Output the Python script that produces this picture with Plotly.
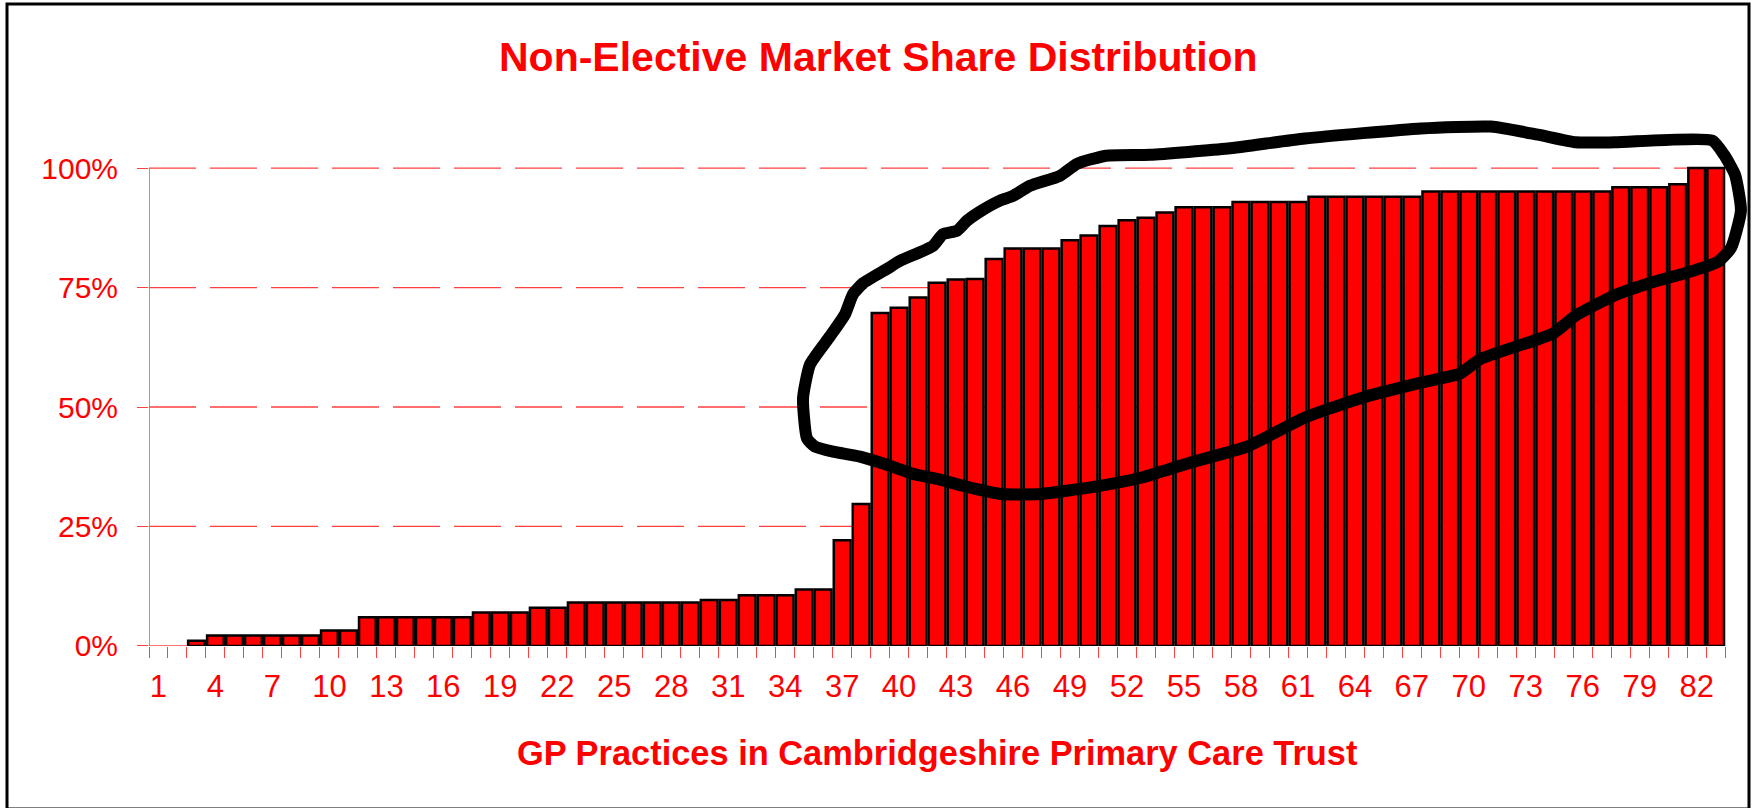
import plotly.graph_objects as go

# ---------------- data ----------------
practices = list(range(1, 84))
market_share = [
    0, 0, 1.1,
    2.2, 2.2, 2.2, 2.2, 2.2, 2.2,
    3.2, 3.2,
    6.0, 6.0, 6.0, 6.0, 6.0, 6.0,
    7.0, 7.0, 7.0,
    8.0, 8.0,
    9.1, 9.1, 9.1, 9.1, 9.1, 9.1, 9.1,
    9.6, 9.6,
    10.6, 10.6, 10.6,
    11.8, 11.8,
    22.1, 29.7, 69.7, 70.8, 72.9, 76.0, 76.7, 76.8, 81.0,
    83.2, 83.2, 83.2,
    84.9, 85.9, 87.9, 89.1, 89.6, 90.7,
    91.8, 91.8, 91.8,
    92.9, 92.9, 92.9, 92.9,
    94.0, 94.0, 94.0, 94.0, 94.0, 94.0,
    95.1, 95.1, 95.1, 95.1, 95.1, 95.1, 95.1, 95.1, 95.1, 95.1,
    96.0, 96.0, 96.0,
    96.6,
    100.0, 100.0,
]
tick_vals = list(range(1, 83, 3))
tick_text = [str(v) for v in tick_vals]
y_tick_vals = [0, 25, 50, 75, 100]
y_tick_text = ["0%", "25%", "50%", "75%", "100%"]

# hand-drawn loop (practice position, percent)
loop_x = [36.36, 35.31, 34.94, 35.15, 35.57, 36.52, 37.94, 39.36, 40.73, 42.15,
          43.58, 45.37, 47.42, 50.42, 52.84, 55.27, 58.32, 61.37, 64.43, 67.48,
          69.54, 70.59, 74.43, 75.65, 77.7, 79.75, 81.81, 83.12, 83.81, 84.33,
          84.02, 83.44, 82.81, 77.7, 75.65, 73.64, 71.17, 67.48, 61.37, 57.32,
          53.21, 50.89, 49.37, 48.47, 46.89, 46.0, 45.31, 44.26, 43.58, 43.05,
          42.31, 41.78, 40.05, 39.36, 38.1, 37.57, 37.15, 36.36]
loop_y = [64.8, 58.9, 51.8, 43.4, 41.7, 40.65, 39.6, 37.9, 36.0, 34.8,
          33.3, 31.8, 31.8, 33.4, 35.3, 38.3, 41.7, 47.8, 52.0, 55.1,
          57.0, 60.0, 65.4, 69.2, 73.4, 76.2, 78.5, 80.4, 83.3, 91.1,
          98.6, 102.8, 105.8, 105.4, 105.4, 107.0, 108.7, 108.3, 106.2, 104.1,
          102.8, 102.6, 100.9, 98.4, 96.3, 94.2, 93.2, 90.9, 89.0, 86.9,
          86.2, 83.7, 80.6, 78.9, 75.9, 73.6, 69.4, 64.8]

chart_title = "Non-Elective Market Share Distribution"
x_title = "GP Practices in Cambridgeshire Primary Care Trust"

# ---------------- layout geometry ----------------
W = 1755
H_REF = 808
H = 828                  # figure height (photographed page is squeezed to 808)
VS = H / H_REF           # vertical scale from reference pixels to figure pixels
FONT = "Arial, 'Liberation Sans', sans-serif"
RED = "#FF0000"
GRID = "#FF4040"

x_left_px = 149.0
unit_px = 18.99
x_range = [0.5, 84.7]
x_right_px = x_left_px + (x_range[1] - x_range[0]) * unit_px

y0_px = 643.5 * VS
pct_px = 4.76 * VS
y_range = [0, 112]
y_top_px = y0_px - y_range[1] * pct_px

fig = go.Figure()
fig.add_trace(go.Bar(
    x=practices, y=market_share,
    marker=dict(color=RED,
                line=dict(color="#000000",
                          width=[2.5 if v > 0 else 0 for v in market_share])),
    hoverinfo="x+y",
))
fig.add_trace(go.Scatter(
    x=loop_x, y=loop_y, mode="lines",
    line=dict(color="#000000", width=12, shape="spline", smoothing=0.5),
    hoverinfo="skip",
))

shapes = []
for v in y_tick_vals[1:]:
    shapes.append(dict(type="line", xref="x", yref="y", x0=0.5, x1=len(practices) + 0.5,
                       y0=v, y1=v, layer="below",
                       line=dict(color=GRID, width=1.3, dash="47px,14px")))
shapes.append(dict(type="line", xref="x", yref="y", x0=0.5, x1=len(practices) + 0.5,
                   y0=0, y1=0, layer="below", line=dict(color=GRID, width=1.3)))
shapes.append(dict(type="line", xref="x", yref="y", x0=0.5, x1=0.5,
                   y0=0, y1=100, layer="below", line=dict(color="#FF4848", width=1.5)))
shapes.append(dict(type="rect", xref="paper", yref="paper",
                   x0=7 / W, x1=1749 / W, y0=1 - 806 * VS / H, y1=1 - 4 * VS / H,
                   line=dict(color="#000000", width=3), fillcolor="rgba(0,0,0,0)"))

fig.update_layout(
    width=W, height=H, autosize=False,
    margin=dict(l=0, r=0, t=0, b=0, pad=0),
    paper_bgcolor="white", plot_bgcolor="white",
    showlegend=False,
    bargap=0.12,
    font=dict(family=FONT, color=RED),
    shapes=shapes,
    xaxis=dict(
        domain=[x_left_px / W, x_right_px / W],
        range=x_range, showgrid=False, zeroline=False, showline=False,
        tickmode="array", tickvals=tick_vals, ticktext=tick_text,
        ticks="", tickfont=dict(size=31, color=RED, family=FONT),
        ticklabelstandoff=round(19 * VS),
        minor=dict(tickmode="array",
                   tickvals=[p - 0.5 for p in practices] + [len(practices) + 0.5],
                   ticks="outside", ticklen=11 * VS, tickcolor=GRID, tickwidth=1,
                   showgrid=False),
    ),
    yaxis=dict(
        domain=[1 - y0_px / H, 1 - y_top_px / H],
        range=y_range, showgrid=False, zeroline=False, showline=False,
        tickmode="array", tickvals=y_tick_vals, ticktext=y_tick_text,
        ticks="outside", ticklen=11, tickcolor=GRID, tickwidth=1,
        tickfont=dict(size=30, color=RED, family=FONT),
        ticklabelstandoff=13,
    ),
    annotations=[
        dict(text="<b>" + chart_title + "</b>", xref="paper", yref="paper",
             x=878.7 / W, y=1 - 57 * VS / H, xanchor="center", yanchor="middle",
             showarrow=False, font=dict(size=41, color=RED, family=FONT)),
        dict(text="<b>" + x_title + "</b>", xref="paper", yref="paper",
             x=937.5 / W, y=1 - 750 * VS / H, xanchor="center", yanchor="middle",
             showarrow=False, font=dict(size=34.4, color=RED, family=FONT)),
    ],
)

fig.write_html("out.html",
               config={"responsive": False, "displayModeBar": False},
               post_script="document.body.style.margin='0';")
